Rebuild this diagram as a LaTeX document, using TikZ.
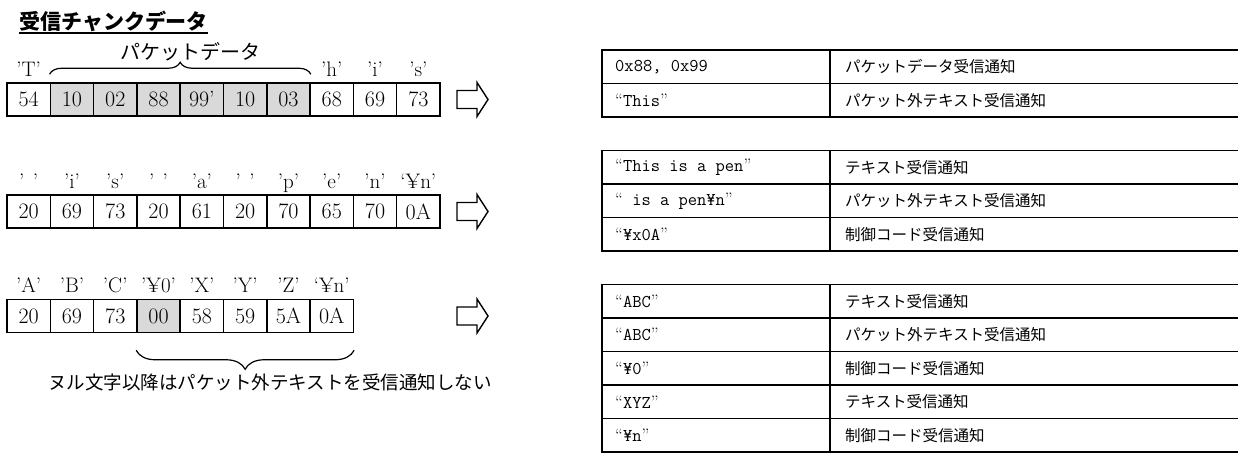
\documentclass[tikz,border=0pt]{standalone}
\usepackage{fontspec}
\newfontfamily\jpfont{Noto Sans CJK JP}
\newcommand\opq{{\rmfamily“}}
\newcommand\clq{{\rmfamily”}}
\usetikzlibrary{decorations.pathreplacing}
\tikzset{
  cell/.style={draw, line width=1.5pt, minimum width=43.3pt, minimum height=33pt, inner sep=0pt,
    font=\fontsize{22}{22}\selectfont},
  pkt/.style={cell, fill=gray!30},
  lbl/.style={anchor=base, inner sep=0pt, font=\fontsize{21}{21}\selectfont},
  upbrace/.style={decorate, decoration={brace, amplitude=12pt}, line width=1.2pt},
  downbrace/.style={decorate, decoration={brace, mirror, amplitude=19pt}, line width=1.2pt},
  hollow/.style={line width=1.4pt, line join=miter},
  tline/.style={line width=1.6pt},
  ttext/.style={anchor=west, inner sep=0pt, font=\fontsize{18}{20}\ttfamily},
  jtext/.style={anchor=west, inner sep=0pt, font=\fontsize{15.5}{18}\jpfont},
}
\begin{document}
\begin{tikzpicture}[x=1pt,y=-1pt]
\useasboundingbox (0,0) rectangle (1238,453);
% title
\node[anchor=base west, inner sep=0pt, font=\fontsize{21}{21}\jpfont\bfseries] (title) at (19,29) {受信チャンクデータ};
\draw[line width=1.2pt] ([yshift=-4pt]title.base west) -- ([yshift=-4pt]title.base east);
% first chunk
\foreach \v/\s [count=\i] in {54/cell,10/pkt,02/pkt,88/pkt,99’/pkt,10/pkt,03/pkt,68/cell,69/cell,73/cell}
  \node[\s] (a\i) at ({7+43.3*(\i-0.5)},99.5) {\v};
\node[lbl] (la1) at ([yshift=6pt]a1.north) {’T’};
\foreach \i/\t in {8/h,9/i,10/s}
  \node[lbl] (la\i) at ([yshift=6pt]a\i.north) {’\t’};
\draw[upbrace] ([yshift=8pt]a2.north west) -- ([yshift=8pt]a7.north east);
\node[inner sep=0pt, font=\fontsize{20}{20}\jpfont] (pktlbl) at (190,52) {パケットデータ};
% second chunk
\foreach \v [count=\i] in {20,69,73,20,61,20,70,65,70,0A}
  \node[cell] (b\i) at ({7+43.3*(\i-0.5)},211.5) {\v};
\foreach \t [count=\i] in {{’\kern0.4em’},{’i’},{’s’},{’\kern0.4em’},{’a’},{’\kern0.4em’},{’p’},{’e’},{’n’},{‘¥n’}}
  \node[lbl] (lb\i) at ([yshift=6pt]b\i.north) {\t};
% third chunk
\foreach \v/\s [count=\i] in {20/cell,69/cell,73/cell,00/pkt,58/cell,59/cell,5A/cell,0A/cell}
  \node[\s] (c\i) at ({7+43.3*(\i-0.5)},316) {\v};
\foreach \t [count=\i] in {{’A’},{’B’},{’C’},{’¥0’},{’X’},{’Y’},{’Z’},{‘¥n’}}
  \node[lbl] (lc\i) at ([yshift=6pt]c\i.north) {\t};
\draw[downbrace] ([yshift=-17pt]c4.south west) -- ([yshift=-17pt]c8.south east);
\node[inner sep=0pt, font=\fontsize{18.5}{18.5}\jpfont] (note) at (270,382) {ヌル文字以降はパケット外テキストを受信通知しない};
% arrows
\foreach \yc in {99.5,211.5,316}
  \draw[hollow] (457,\yc-9) -- (477,\yc-9) -- (477,\yc-17) -- (488,\yc) -- (477,\yc+17) -- (477,\yc+9) -- (457,\yc+9) -- cycle;
% result tables
\foreach \t/\b in {0/2,3/6,7/12} {
  \draw[tline] (602,{50+33.5*\t}) rectangle (1240,{50+33.5*\b});
  \draw[tline] (830,{50+33.5*\t}) -- (830,{50+33.5*\b});
}
\foreach \r in {1,4,5,8,9,10,11}
  \draw[tline] (602,{50+33.5*\r}) -- (1240,{50+33.5*\r});
\foreach \r/\a/\b in {0/{0x88, 0x99}/パケットデータ受信通知,1/\opq This\clq/パケット外テキスト受信通知,
    3/\opq This is a pen\clq/テキスト受信通知,4/\opq\ is a pen¥n\clq/パケット外テキスト受信通知,5/\opq¥x0A\clq/制御コード受信通知,
    7/\opq ABC\clq/テキスト受信通知,8/\opq ABC\clq/パケット外テキスト受信通知,9/\opq¥0\clq/制御コード受信通知,
    10/\opq XYZ\clq/テキスト受信通知,11/\opq¥n\clq/制御コード受信通知} {
  \node[ttext] (p\r) at (615,{50+33.5*\r+16.75}) {\a};
  \node[jtext] (q\r) at (845,{50+33.5*\r+16.75}) {\b};
}
\end{tikzpicture}
\end{document}
